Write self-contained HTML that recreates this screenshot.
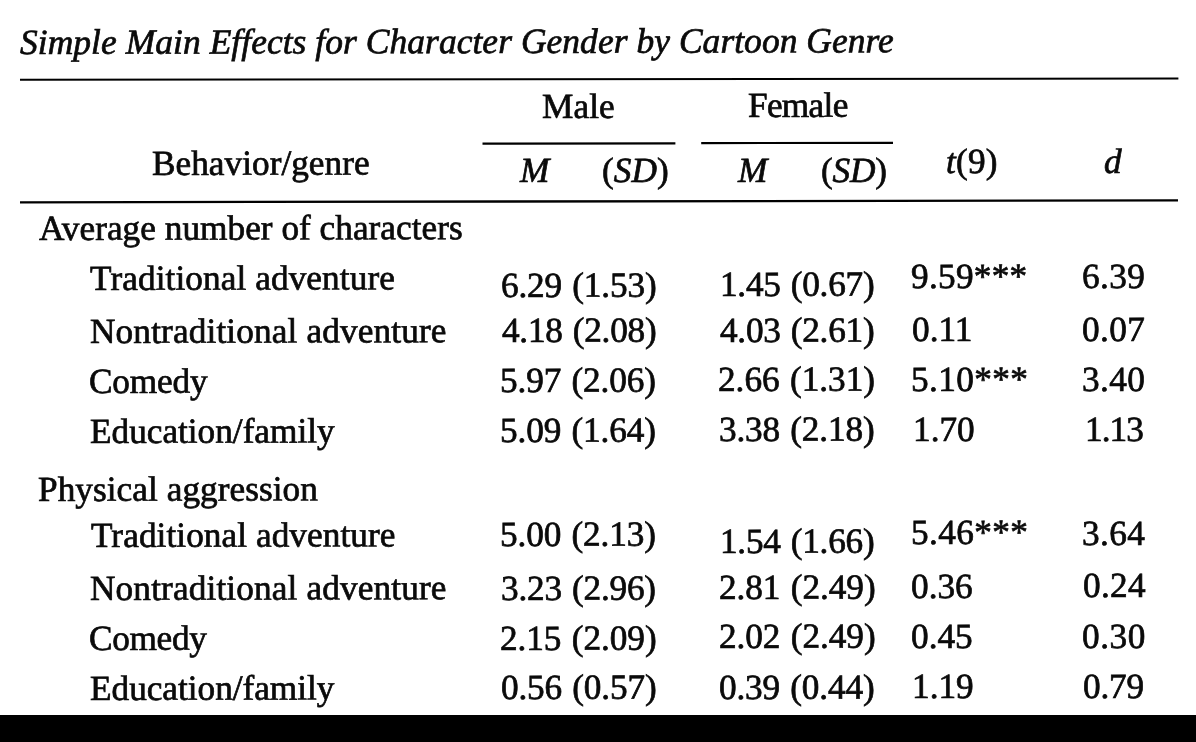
<!DOCTYPE html>
<html><head><meta charset="utf-8"><title>Table</title>
<style>
html,body{margin:0;padding:0;background:#fff;}
body{width:1196px;height:742px;position:relative;overflow:hidden;font-family:"Liberation Serif",serif;color:#000;}
.wrap{position:absolute;left:0;top:0;width:1196px;height:742px;will-change:transform;filter:grayscale(1);}
.t{position:absolute;white-space:pre;transform-origin:0 29.56px;transform:rotate(-0.11deg);font-size:35.3px;line-height:1;font-family:"Liberation Serif",serif;color:#0a0a0a;-webkit-text-stroke:0.7px #0a0a0a;}
.i{font-style:italic;}
.bar{position:absolute;left:0;top:714.7px;width:1196px;height:28px;background:#000;}
svg{position:absolute;left:0;top:0;}
</style></head><body>
<svg width="1196" height="742" viewBox="0 0 1196 742">
<line x1="20" y1="79.8" x2="1178.4" y2="78.6" stroke="#000" stroke-width="2"/>
<line x1="20" y1="202.3" x2="1178" y2="200.4" stroke="#000" stroke-width="2.3"/>
<line x1="482.5" y1="143.6" x2="675.4" y2="143.3" stroke="#000" stroke-width="2.2"/>
<line x1="701.2" y1="143.1" x2="893" y2="142.8" stroke="#000" stroke-width="2.2"/>
</svg>
<div class="wrap">
<div class="t i" style="left:20.35px;top:24.77px;font-size:35.5px;transform-origin:0 29.73px;letter-spacing:0.029px;">Simple Main Effects for Character Gender by Cartoon Genre</div>
<div class="t" style="left:542.35px;top:89.14px;letter-spacing:0.061px;">Male</div>
<div class="t" style="left:747.95px;top:88.04px;letter-spacing:-0.717px;">Female</div>
<div class="t" style="left:151.55px;top:145.97px;">Behavior/genre</div>
<div class="t i" style="left:520.45px;top:153.14px;">M</div>
<div class="t" style="left:601.55px;top:153.14px;">(<i>SD</i>)</div>
<div class="t i" style="left:738.45px;top:152.80px;">M</div>
<div class="t" style="left:820.95px;top:152.80px;letter-spacing:-0.199px;">(<i>SD</i>)</div>
<div class="t" style="left:946.15px;top:144.44px;letter-spacing:0.181px;"><i>t</i>(9)</div>
<div class="t i" style="left:1103.95px;top:144.04px;">d</div>
<div class="t" style="left:39.35px;top:210.94px;">Average number of characters</div>
<div class="t" style="left:90.35px;top:260.54px;letter-spacing:0.066px;">Traditional adventure</div>
<div class="t" style="left:89.75px;top:313.94px;letter-spacing:0.117px;">Nontraditional adventure</div>
<div class="t" style="left:89.35px;top:364.04px;letter-spacing:-0.183px;">Comedy</div>
<div class="t" style="left:90.15px;top:414.04px;letter-spacing:-0.026px;">Education/family</div>
<div class="t" style="left:38.35px;top:471.84px;letter-spacing:0.030px;">Physical aggression</div>
<div class="t" style="left:90.75px;top:517.54px;letter-spacing:0.046px;">Traditional adventure</div>
<div class="t" style="left:89.75px;top:570.94px;letter-spacing:0.117px;">Nontraditional adventure</div>
<div class="t" style="left:89.35px;top:621.24px;letter-spacing:-0.343px;">Comedy</div>
<div class="t" style="left:90.35px;top:670.54px;letter-spacing:-0.039px;">Education/family</div>
<div class="t" style="left:500.75px;top:268.14px;letter-spacing:-0.183px;word-spacing:1.6px;">6.29 (1.53)</div>
<div class="t" style="left:501.75px;top:312.94px;letter-spacing:-0.283px;word-spacing:1.6px;">4.18 (2.08)</div>
<div class="t" style="left:500.35px;top:362.84px;letter-spacing:-0.143px;word-spacing:1.6px;">5.97 (2.06)</div>
<div class="t" style="left:500.35px;top:412.94px;letter-spacing:-0.143px;word-spacing:1.6px;">5.09 (1.64)</div>
<div class="t" style="left:500.35px;top:516.54px;letter-spacing:-0.143px;word-spacing:1.6px;">5.00 (2.13)</div>
<div class="t" style="left:501.35px;top:570.97px;letter-spacing:-0.243px;word-spacing:1.6px;">3.23 (2.96)</div>
<div class="t" style="left:499.75px;top:621.14px;letter-spacing:-0.083px;word-spacing:1.6px;">2.15 (2.09)</div>
<div class="t" style="left:500.75px;top:669.84px;letter-spacing:-0.183px;word-spacing:1.6px;">0.56 (0.57)</div>
<div class="t" style="left:719.75px;top:267.04px;letter-spacing:-0.283px;word-spacing:1.6px;">1.45 (0.67)</div>
<div class="t" style="left:719.75px;top:312.80px;letter-spacing:-0.283px;word-spacing:1.6px;">4.03 (2.61)</div>
<div class="t" style="left:718.35px;top:361.54px;letter-spacing:-0.043px;word-spacing:1.6px;">2.66 (1.31)</div>
<div class="t" style="left:718.75px;top:411.80px;letter-spacing:-0.183px;word-spacing:1.6px;">3.38 (2.18)</div>
<div class="t" style="left:719.75px;top:523.64px;letter-spacing:-0.283px;word-spacing:1.6px;">1.54 (1.66)</div>
<div class="t" style="left:718.75px;top:569.54px;letter-spacing:-0.083px;word-spacing:1.6px;">2.81 (2.49)</div>
<div class="t" style="left:718.75px;top:619.24px;letter-spacing:-0.083px;word-spacing:1.6px;">2.02 (2.49)</div>
<div class="t" style="left:718.75px;top:669.64px;letter-spacing:-0.183px;word-spacing:1.6px;">0.39 (0.44)</div>
<div class="t" style="left:911.15px;top:259.04px;letter-spacing:0.254px;">9.59***</div>
<div class="t" style="left:912.15px;top:311.94px;">0.11</div>
<div class="t" style="left:910.55px;top:361.54px;letter-spacing:0.354px;">5.10***</div>
<div class="t" style="left:913.15px;top:412.14px;">1.70</div>
<div class="t" style="left:910.55px;top:514.94px;letter-spacing:0.354px;">5.46***</div>
<div class="t" style="left:910.55px;top:568.74px;">0.36</div>
<div class="t" style="left:910.55px;top:618.94px;">0.45</div>
<div class="t" style="left:912.15px;top:669.24px;">1.19</div>
<div class="t" style="left:1082.35px;top:259.04px;letter-spacing:0.359px;">6.39</div>
<div class="t" style="left:1082.35px;top:311.74px;letter-spacing:0.359px;">0.07</div>
<div class="t" style="left:1082.35px;top:361.54px;letter-spacing:0.359px;">3.40</div>
<div class="t" style="left:1084.75px;top:411.74px;letter-spacing:-0.975px;">1.13</div>
<div class="t" style="left:1082.35px;top:515.97px;letter-spacing:0.359px;">3.64</div>
<div class="t" style="left:1082.55px;top:568.24px;letter-spacing:0.292px;">0.24</div>
<div class="t" style="left:1081.75px;top:618.64px;letter-spacing:0.558px;">0.30</div>
<div class="t" style="left:1082.55px;top:668.94px;letter-spacing:-0.241px;">0.79</div>
</div>
<div class="bar"></div>
</body></html>
